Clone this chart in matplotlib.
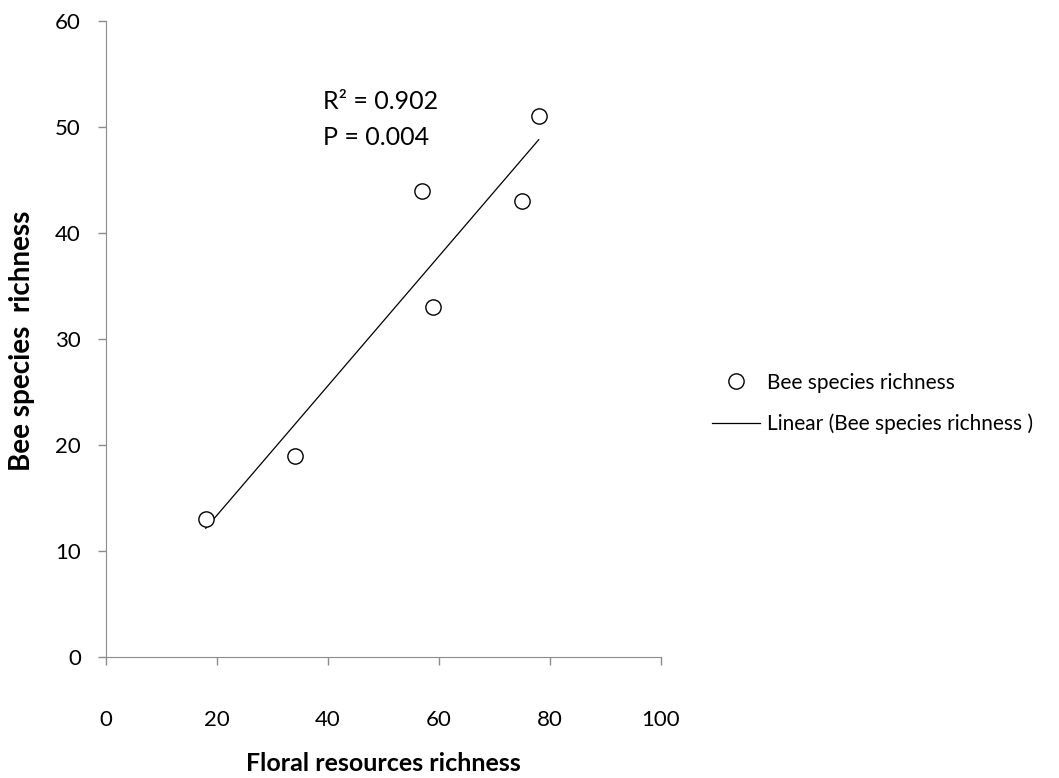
import numpy as np
import matplotlib
matplotlib.use("Agg")
import matplotlib.pyplot as plt

plt.rcParams['font.family'] = ['Lato', 'DejaVu Sans']

floral = np.array([18, 34, 57, 59, 75, 78])
bees = np.array([13, 19, 44, 33, 43, 51])

slope, intercept = np.polyfit(floral, bees, 1)
xfit = np.array([floral.min(), floral.max()])
yfit = slope * xfit + intercept

fig = plt.figure(figsize=(10.59, 7.78), dpi=100)
ax = fig.add_axes([0.100, 0.1555, 0.524, 0.8175])

ax.plot(floral, bees, linestyle="none", marker="o", markersize=11,
        markerfacecolor="white", markeredgecolor="black", markeredgewidth=1,
        label="Bee species richness", zorder=3)
ax.plot(xfit, yfit, color="black", linewidth=0.9,
        label="Linear (Bee species richness )")

ax.set_xlim(0, 100)
ax.set_ylim(0, 60)
ax.set_xticks([0, 20, 40, 60, 80, 100])
ax.set_yticks([0, 10, 20, 30, 40, 50, 60])

for s in ["top", "right"]:
    ax.spines[s].set_visible(False)
for s in ["left", "bottom"]:
    ax.spines[s].set_color("#8c8c8c")
ax.tick_params(colors="#8c8c8c", labelcolor="black", labelsize=16,
               length=6, width=1)
ax.tick_params(axis="x", pad=32)
ax.tick_params(axis="y", pad=12)

ax.set_xlabel("Floral resources richness", fontsize=18, fontweight="bold")
ax.xaxis.set_label_coords(0.5, -0.150)
ax.set_ylabel("Bee species  richness", fontsize=20, fontweight="bold")
ax.yaxis.set_label_coords(-0.128, 0.497)

ax.text(39.1, 53.5, "R² = 0.902\nP = 0.004", fontsize=18,
        linespacing=1.7, va="top", ha="left")

fig.legend(loc="upper left", bbox_to_anchor=(0.655, 0.545), frameon=False,
           fontsize=15, handlelength=2.3, labelspacing=1.0, handletextpad=0.3)

fig.savefig("out.png", dpi=100)
